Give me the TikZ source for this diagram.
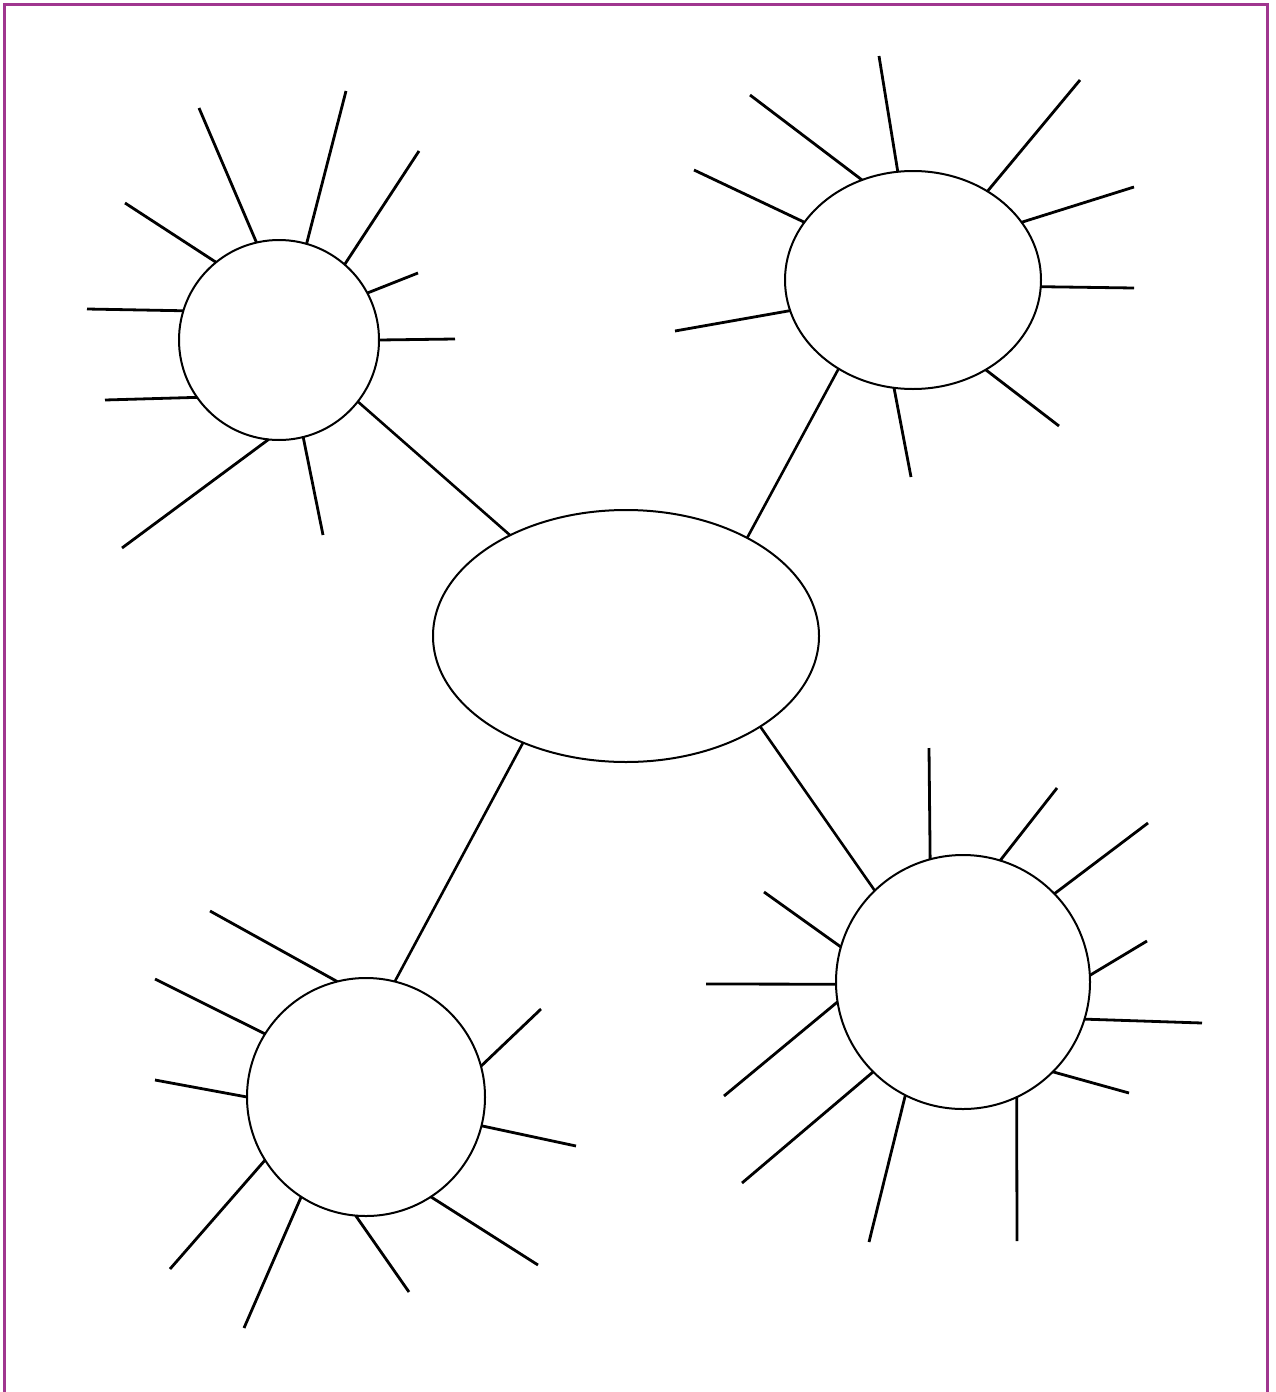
\documentclass[tikz,border=0pt]{standalone}
\usetikzlibrary{shapes.geometric}
\definecolor{framecol}{HTML}{A0368F}
\begin{document}
\begin{tikzpicture}[x=1pt,y=-1pt,
  bubble/.style={circle,draw,line width=2pt,inner sep=0pt,outer sep=0pt,minimum size=#1},
  oval/.style={ellipse,draw,line width=2pt,inner sep=0pt,outer sep=0pt},
  ray/.style={line width=2.8pt},
  link/.style={line width=2.6pt}]
\useasboundingbox (0,0) rectangle (1275,1392);
\draw[framecol,line width=2.8pt] (4.6,1392) -- (4.6,4.6) -- (1267.8,4.6) -- (1267.8,1392);

% nodes
\node[oval,minimum width=386pt,minimum height=252pt] (C) at (626,636) {};
\node[bubble=200pt] (TL) at (279,340) {};
\node[oval,minimum width=256pt,minimum height=218pt] (TR) at (913,280) {};
\node[bubble=238pt] (BL) at (366,1097) {};
\node[bubble=254pt] (BR) at (963,982) {};

% links to the centre
\draw[link] (C.139.6) -- (TL.-38.3);
\draw[link] (C.39.3) -- (TR.230.2);
\draw[link] (C.226.1) -- (BL.76);
\draw[link] (C.326.6) -- (BR.134.7);

% rays of the top-left circle
\foreach \a/\x/\y [count=\i] in {103.1/199/108, 74.1/346/91, 49.8/419/151, 28.8/418/273,
  0/455/339, 215.9/105/400, 163.5/87/309, 129.9/125/203, 264.9/122/548, 284.6/323/535}
{\coordinate (tl\i) at (\x,\y); \draw[ray] (TL.\a) -- (tl\i);}

% rays of the top-right oval
\foreach \a/\x/\y [count=\i] in {98.9/879/56, 117.9/750/95, 152.2/694/170, 194.6/675/331,
  50.5/1080/80, 28.2/1134/187, -3.6/1134/288, -51.6/1059/426, 260.1/911/477}
{\coordinate (tr\i) at (\x,\y); \draw[ray] (TR.\a) -- (tr\i);}

% rays of the bottom-left circle
\foreach \a/\x/\y [count=\i] in {104.6/210/911, 148.4/155/979, 180/155/1080, 15/541/1009,
  -14.4/576/1146, -57.1/538/1265, 265.2/409/1292, 237.3/244/1328, 212.4/170/1269}
{\coordinate (bl\i) at (\x,\y); \draw[ray] (BL.\a) -- (bl\i);}

% rays of the bottom-right circle
\foreach \a/\x/\y [count=\i] in {105.2/929/748, 73.1/1057/788, 44.4/1148/823, 3.6/1147/941,
  -17.9/1202/1023, -45.6/1129/1093, -65.4/1017/1241, 243.4/869/1242, 225/742/1183,
  189.3/724/1096, 181/706/984, 164.7/764/892}
{\coordinate (br\i) at (\x,\y); \draw[ray] (BR.\a) -- (br\i);}
\end{tikzpicture}
\end{document}
